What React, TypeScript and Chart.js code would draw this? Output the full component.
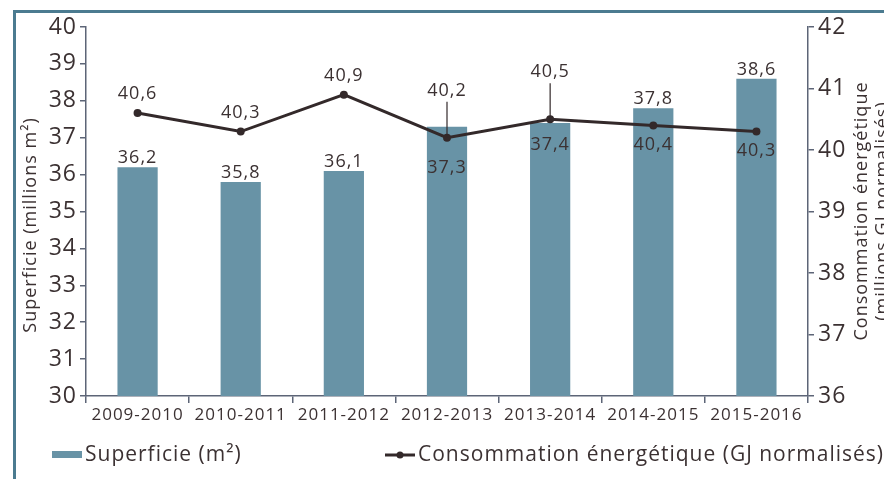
import React, { useEffect, useRef } from "react";
import { Chart, registerables } from "chart.js";

Chart.register(...registerables);

const categories = ["2009-2010", "2010-2011", "2011-2012", "2012-2013", "2013-2014", "2014-2015", "2015-2016"];
const superficie = [36.2, 35.8, 36.1, 37.3, 37.4, 37.8, 38.6];
const consommation = [40.6, 40.3, 40.9, 40.2, 40.5, 40.4, 40.3];
const leftTicks = [30, 31, 32, 33, 34, 35, 36, 37, 38, 39, 40];
const rightTicks = [36, 37, 38, 39, 40, 41, 42];

// label placement styles
const barLabelPos = ["above", "above", "above", "inside", "inside", "above", "above"];
const barInsideOffset = [0, 0, 0, 41, 22, 0, 0];
const lineLabelPos = ["above", "above", "above", "leader", "leader", "below", "below"];

const FONT = "'Open Sans', 'Noto Sans', sans-serif";
const TEXT = "#3b3132";
const BAR = "#6893a6";
const LINE = "#33292a";
const AXIS = "#5d6577";
const FRAME = "#4b7b90";

const fmt = (v: number) => v.toFixed(1).replace(".", ",");

const spacing = {
  id: "spacing",
  beforeUpdate(chart: any) {
    (chart.ctx as any).letterSpacing = "1px";
  },
  beforeDraw(chart: any) {
    (chart.ctx as any).letterSpacing = "1px";
  },
};

const overlay = {
  id: "overlay",
  afterDatasetsDraw(chart: any) {
    const ctx = chart.ctx as CanvasRenderingContext2D;
    ctx.save();
    (ctx as any).letterSpacing = "1px";
    ctx.fillStyle = TEXT;
    ctx.font = `18px ${FONT}`;
    ctx.textAlign = "center";
    ctx.textBaseline = "middle";
    const barMeta = chart.getDatasetMeta(0);
    barMeta.data.forEach((el: any, i: number) => {
      const v = superficie[i];
      if (barLabelPos[i] === "above") ctx.fillText(fmt(v), el.x, el.y - 9);
      else ctx.fillText(fmt(v), el.x, el.y + barInsideOffset[i]);
    });
    const lineMeta = chart.getDatasetMeta(1);
    lineMeta.data.forEach((el: any, i: number) => {
      const v = consommation[i];
      const p = lineLabelPos[i];
      if (p === "above") ctx.fillText(fmt(v), el.x, el.y - 19);
      else if (p === "below") ctx.fillText(fmt(v), el.x, el.y + 19);
      else {
        const ly = el.y - 47;
        ctx.fillText(fmt(v), el.x, ly);
        ctx.strokeStyle = LINE;
        ctx.lineWidth = 1.2;
        ctx.beginPath();
        ctx.moveTo(el.x, ly + 11);
        ctx.lineTo(el.x, el.y);
        ctx.stroke();
      }
    });
    ctx.restore();
  },
  afterDraw(chart: any) {
    const ctx = chart.ctx as CanvasRenderingContext2D;
    ctx.save();
    (ctx as any).letterSpacing = "1px";
    // frame
    ctx.fillStyle = FRAME;
    ctx.fillRect(13, 10, 884 - 13, 3);
    ctx.fillRect(13, 10, 3, 479 - 10);
    // axis titles
    ctx.fillStyle = TEXT;
    ctx.font = `18px ${FONT}`;
    ctx.textAlign = "center";
    ctx.textBaseline = "middle";
    ctx.save();
    ctx.translate(31, 225);
    ctx.rotate(-Math.PI / 2);
    ctx.fillText("Superficie (millions m²)", 0, 0);
    ctx.restore();
    ctx.save();
    ctx.translate(862, 211);
    ctx.rotate(-Math.PI / 2);
    ctx.fillText("Consommation énergétique", 0, 0);
    ctx.fillText("(millions GJ normalisés)", 0, 21);
    ctx.restore();
    // legend
    ctx.font = `21px ${FONT}`;
    ctx.textAlign = "left";
    ctx.fillStyle = BAR;
    ctx.fillRect(52, 451, 30, 7);
    ctx.fillStyle = TEXT;
    ctx.fillText("Superficie (m²)", 85, 455);
    ctx.strokeStyle = LINE;
    ctx.lineWidth = 3;
    ctx.beginPath();
    ctx.moveTo(385, 455);
    ctx.lineTo(415, 455);
    ctx.stroke();
    ctx.fillStyle = LINE;
    ctx.beginPath();
    ctx.arc(400, 455, 3.5, 0, Math.PI * 2);
    ctx.fill();
    ctx.fillStyle = TEXT;
    ctx.fillText("Consommation énergétique (GJ normalisés)", 418, 455);
    ctx.restore();
  },
};

export default function App() {
  const ref = useRef<HTMLCanvasElement | null>(null);
  useEffect(() => {
    document.body.style.margin = "0";
    const canvas = ref.current;
    if (!canvas) return;
    const chart = new Chart(canvas, {
      type: "bar",
      data: {
        labels: categories,
        datasets: [
          {
            type: "bar",
            label: "Superficie (m²)",
            data: superficie,
            backgroundColor: BAR,
            yAxisID: "y",
            barPercentage: 0.39,
            categoryPercentage: 1,
            order: 2,
          },
          {
            type: "line",
            label: "Consommation énergétique (GJ normalisés)",
            data: consommation,
            borderColor: LINE,
            backgroundColor: LINE,
            borderWidth: 3,
            pointRadius: 4,
            pointBackgroundColor: LINE,
            pointBorderWidth: 0,
            yAxisID: "y1",
            tension: 0,
            order: 1,
          } as any,
        ],
      },
      options: {
        responsive: false,
        animation: false,
        devicePixelRatio: 1,
        layout: { padding: { top: 27, left: 0, right: 0, bottom: 0 } },
        plugins: { legend: { display: false }, tooltip: { enabled: false } },
        scales: {
          x: {
            offset: true,
            grid: { display: true, drawOnChartArea: false, drawTicks: true, tickLength: 7, color: AXIS, offset: true, lineWidth: 1.5 },
            border: { display: true, color: AXIS, width: 1.5 },
            ticks: { color: TEXT, font: { family: FONT, size: 17 }, padding: 2, maxRotation: 0, autoSkip: false },
            afterFit: (s: any) => { s.height = 83; },
          },
          y: {
            position: "left",
            min: 30,
            max: 40,
            afterBuildTicks: (s: any) => { s.ticks = leftTicks.map((v) => ({ value: v })); },
            grid: { display: true, drawOnChartArea: false, drawTicks: true, tickLength: 6, color: AXIS, lineWidth: 1.5 },
            border: { display: true, color: AXIS, width: 1.5 },
            ticks: { color: TEXT, font: { family: FONT, size: 23 }, padding: 3 },
            afterFit: (s: any) => { s.width = 86; },
          },
          y1: {
            position: "right",
            min: 36,
            max: 42,
            afterBuildTicks: (s: any) => { s.ticks = rightTicks.map((v) => ({ value: v })); },
            grid: { display: true, drawOnChartArea: false, drawTicks: true, tickLength: 6, color: AXIS, lineWidth: 1.5 },
            border: { display: true, color: AXIS, width: 1.5 },
            ticks: { color: TEXT, font: { family: FONT, size: 23 }, padding: 4 },
            afterFit: (s: any) => { s.width = 76; },
          },
        },
      } as any,
      plugins: [spacing, overlay],
    });
    return () => chart.destroy();
  }, []);
  return (
    <div style={{ width: 884, height: 479, background: "#fff" }}>
      <canvas ref={ref} width={884} height={479} style={{ display: "block" }} />
    </div>
  );
}
